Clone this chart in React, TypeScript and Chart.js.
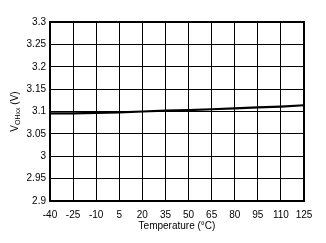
import React, { useEffect, useRef } from "react";
import { Chart, registerables } from "chart.js";

Chart.register(...registerables);

const temperatures = [-40, -25, -10, 5, 20, 35, 50, 65, 80, 95, 110, 125];
const voltage = [3.096, 3.096, 3.097, 3.098, 3.1, 3.102, 3.103, 3.105, 3.107, 3.109, 3.111, 3.114];
const xTicks = [-40, -25, -10, 5, 20, 35, 50, 65, 80, 95, 110, 125];
const yTicks = [2.9, 2.95, 3, 3.05, 3.1, 3.15, 3.2, 3.25, 3.3];
const xTitle = "Temperature (°C)";
const yTitleMain = "V";
const yTitleSub = "OHxx";
const yTitleTail = " (V)";

const FONT = "'Liberation Sans', Arial, sans-serif";

const titlesPlugin = {
  id: "titles",
  afterDraw(chart: any) {
    const { ctx, chartArea } = chart;
    ctx.save();
    ctx.fillStyle = "#000";
    ctx.font = `10px ${FONT}`;
    ctx.textAlign = "center";
    ctx.textBaseline = "middle";
    ctx.fillText(xTitle, (chartArea.left + chartArea.right) / 2, 226);
    const cy = (chartArea.top + chartArea.bottom) / 2;
    ctx.translate(14, cy);
    ctx.rotate(-Math.PI / 2);
    ctx.font = `10px ${FONT}`;
    const w1 = ctx.measureText(yTitleMain).width;
    const w3 = ctx.measureText(yTitleTail).width;
    ctx.font = `7px ${FONT}`;
    const w2 = ctx.measureText(yTitleSub).width;
    const total = w1 + w2 + w3;
    let x = -total / 2;
    ctx.textAlign = "left";
    ctx.textBaseline = "alphabetic";
    ctx.font = `10px ${FONT}`;
    ctx.fillText(yTitleMain, x, 3.5);
    x += w1;
    ctx.font = `7px ${FONT}`;
    ctx.fillText(yTitleSub, x, 5.5);
    x += w2;
    ctx.font = `10px ${FONT}`;
    ctx.fillText(yTitleTail, x, 3.5);
    ctx.restore();
  },
};

export default function App() {
  const ref = useRef<HTMLCanvasElement>(null);
  useEffect(() => {
    if (!ref.current) return;
    const chart = new Chart(ref.current, {
      type: "line",
      data: {
        datasets: [
          {
            data: temperatures.map((t, i) => ({ x: t, y: voltage[i] })),
            borderColor: "#000",
            borderWidth: 2.2,
            pointRadius: 0,
            tension: 0,
          },
        ],
      },
      options: {
        animation: false,
        responsive: false,
        maintainAspectRatio: false,
        layout: { padding: { top: 22, right: 22, left: 0, bottom: 0 } },
        plugins: { legend: { display: false }, tooltip: { enabled: false } },
        scales: {
          x: {
            type: "linear",
            min: -40,
            max: 125,
            afterBuildTicks: (axis: any) => {
              axis.ticks = xTicks.map((v) => ({ value: v }));
            },
            afterFit: (axis: any) => {
              axis.height = 42;
            },
            grid: { color: "#000", lineWidth: 1, drawTicks: false },
            border: { color: "#000", width: 2 },
            ticks: {
              color: "#000",
              font: { family: FONT, size: 10 },
              padding: 8,
              maxRotation: 0,
              autoSkip: false,
            },
          },
          y: {
            min: 2.9,
            max: 3.3,
            afterBuildTicks: (axis: any) => {
              axis.ticks = yTicks.map((v) => ({ value: v }));
            },
            afterFit: (axis: any) => {
              axis.width = 50;
            },
            grid: { color: "#000", lineWidth: 1, drawTicks: false },
            border: { color: "#000", width: 2 },
            ticks: {
              color: "#000",
              font: { family: FONT, size: 10 },
              padding: 4,
              autoSkip: false,
              callback: (v: any) => String(Math.round(Number(v) * 100) / 100),
            },
          },
        },
      },
      plugins: [
        titlesPlugin,
        {
          id: "frame",
          afterDatasetsDraw(chart: any) {
            const { ctx, chartArea } = chart;
            ctx.save();
            ctx.strokeStyle = "#000";
            ctx.lineWidth = 2;
            ctx.strokeRect(chartArea.left, chartArea.top, chartArea.right - chartArea.left, chartArea.bottom - chartArea.top);
            ctx.restore();
          },
        },
      ],
    } as any);
    return () => chart.destroy();
  }, []);
  return (
    <div style={{ position: "fixed", left: 0, top: 0, width: 326, height: 243, background: "#fff" }}>
      <canvas ref={ref} width={326} height={243} style={{ width: 326, height: 243 }} />
    </div>
  );
}
